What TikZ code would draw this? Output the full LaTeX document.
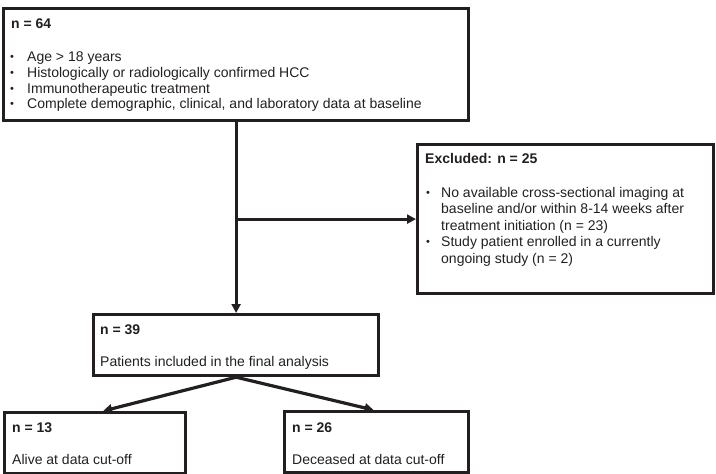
\documentclass[tikz,border=0pt]{standalone}
\usepackage{fontspec}
\setmainfont{Liberation Sans}
\usetikzlibrary{arrows.meta}
\definecolor{ink}{HTML}{231F20}
\tikzset{
  box/.style={draw=ink, line width=3.2pt, rectangle, inner sep=0pt, anchor=north west},
  txt/.style={anchor=base west, inner sep=0pt, font=\fontsize{14}{16}\selectfont, text=ink},
  hd/.style={txt, font=\fontsize{14}{16}\selectfont\bfseries},
  arr/.style={draw=ink, line width=3.2pt, -{Triangle[length=9pt,width=9pt]}},
}
\newcommand{\bul}[1]{\makebox[#1][l]{\fontsize{11}{11}\selectfont\raisebox{1pt}{•}}}
\begin{document}
\begin{tikzpicture}[x=1pt,y=-1pt]
\useasboundingbox (0,0) rectangle (716,474);
% boxes
\node[box, minimum width=465pt, minimum height=112pt] (b1) at (2,7) {};
\node[box, minimum width=296pt, minimum height=149pt] (ex) at (416,143) {};
\node[box, minimum width=285pt, minimum height=61pt] (b39) at (92,313) {};
\node[box, minimum width=181pt, minimum height=61pt] (b13) at (3,411) {};
\node[box, minimum width=184pt, minimum height=61pt] (b26) at (283,410) {};
% texts box 1
\node[hd] (t1) at (11,28) {n = 64};
\node[txt] (t2) at (10,61.5) {\bul{17pt}Age > 18 years};
\node[txt] (t3) at (10,77.3) {\bul{17pt}Histologically or radiologically confirmed HCC};
\node[txt] (t4) at (10,93) {\bul{17pt}Immunotherapeutic treatment};
\node[txt] (t5) at (10,108.8) {\bul{17pt}Complete demographic, clinical, and laboratory data at baseline};
% excluded
\node[hd] (e1) at (425,163) {Excluded: n = 25};
\node[txt] (e2) at (426,197) {\bul{15pt}No available cross-sectional imaging at};
\node[txt] (e3) at (441,213.5) {baseline and/or within 8-14 weeks after};
\node[txt] (e4) at (441,230) {treatment initiation (n = 23)};
\node[txt] (e5) at (426,246.5) {\bul{15pt}Study patient enrolled in a currently};
\node[txt] (e6) at (441,263) {ongoing study (n = 2)};
% n=39
\node[hd] (m1) at (100,334) {n = 39};
\node[txt] (m2) at (100,366) {Patients included in the final analysis};
% bottom
\node[hd] (l1) at (12,432) {n = 13};
\node[txt] (l2) at (12,464) {Alive at data cut-off};
\node[hd] (r1) at (292,432) {n = 26};
\node[txt] (r2) at (292,464) {Deceased at data cut-off};
% connectors
\coordinate (br) at (b1.south |- ex.west);
\draw[arr] (b1.south) -- (b39.north);
\draw[arr] (br) -- (ex.west);
\draw[arr] (b39.south) -- ([xshift=8pt]b13.north);
\draw[arr] (b39.south) -- ([xshift=-3pt]b26.north);
\end{tikzpicture}
\end{document}
